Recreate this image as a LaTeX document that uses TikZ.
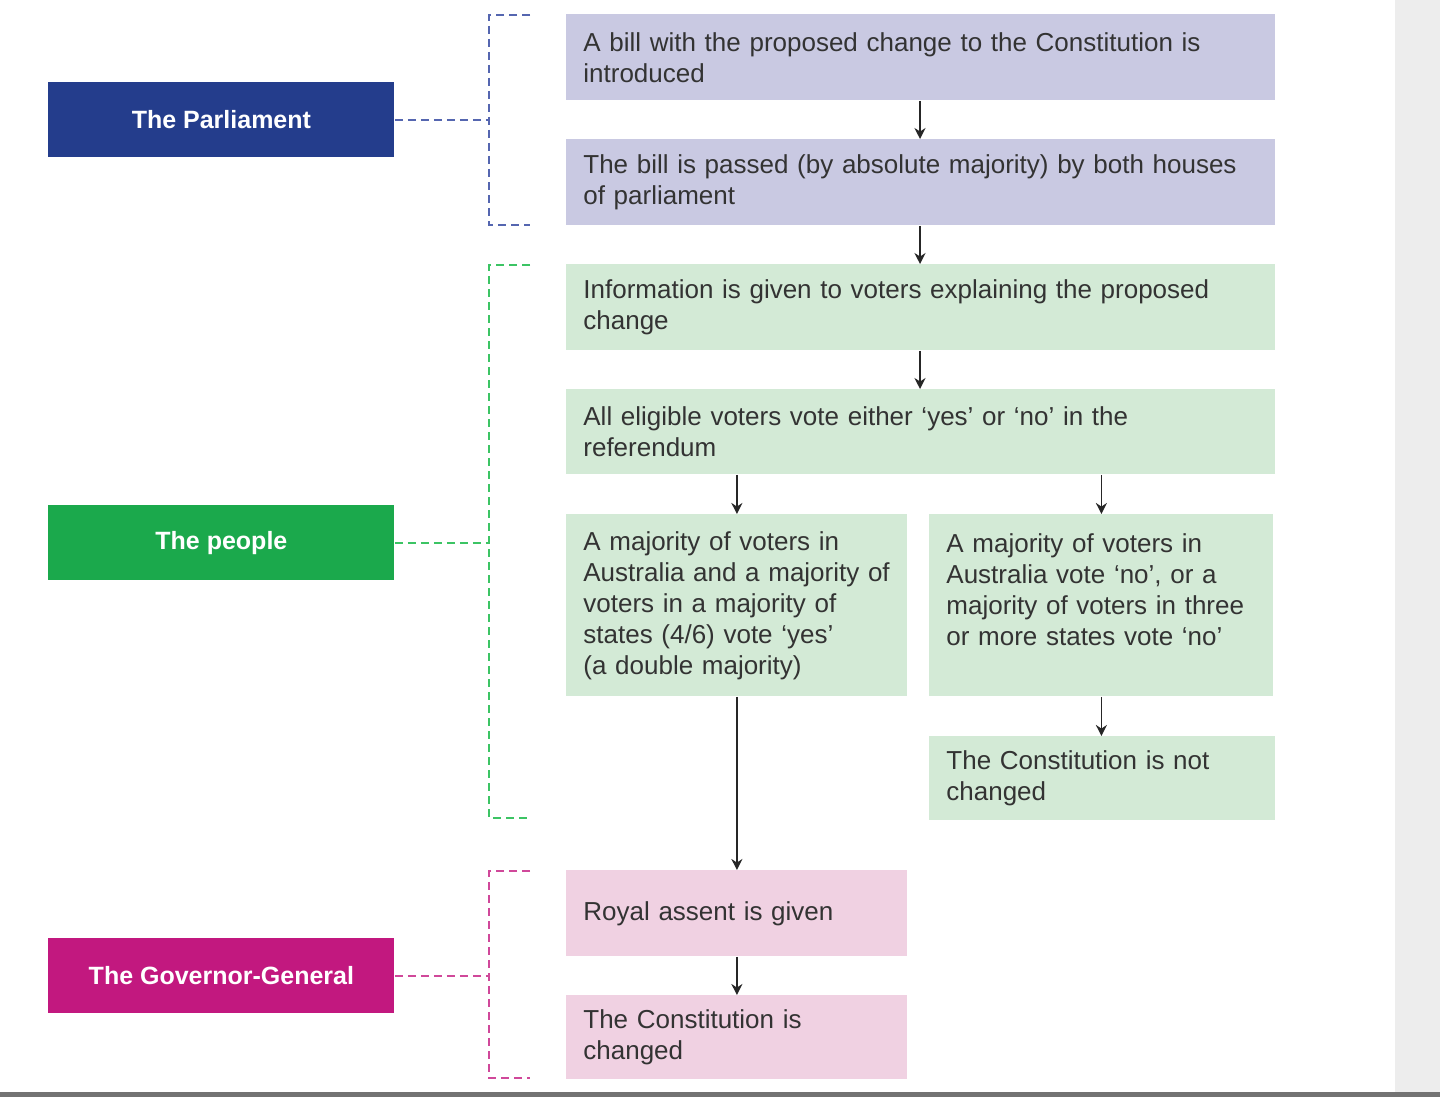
\documentclass[tikz,border=0pt]{standalone}
\usepackage{fontspec}
\setmainfont[Ligatures=TeX]{Liberation Sans}
\usetikzlibrary{arrows.meta}
\definecolor{parlc}{HTML}{243D8C}
\definecolor{peoplec}{HTML}{1BA94C}
\definecolor{govc}{HTML}{C2187F}
\definecolor{purplebox}{HTML}{C9C9E2}
\definecolor{greenbox}{HTML}{D3EAD6}
\definecolor{pinkbox}{HTML}{F0D1E2}
\definecolor{parldash}{HTML}{5566B0}
\definecolor{peopledash}{HTML}{3CC464}
\definecolor{govdash}{HTML}{D0489A}
\definecolor{txt}{HTML}{333333}
\tikzset{
  label box/.style={draw=none, minimum width=173pt, minimum height=37.5pt, anchor=north west,
    text=white, font=\bfseries\fontsize{12.5}{15.5}\selectfont, inner sep=0pt},
  stepbox/.style={draw=none, anchor=north west, inner xsep=8.5pt, inner ysep=0pt,
    text width=#1-17pt, minimum width=#1, align=left, text=txt,
    font=\fontsize{13}{15.5}\selectfont},
  bracket/.style={line width=1.4pt, dash pattern=on 4pt off 2.5pt},
  flow/.style={line width=0.9pt, -{Stealth[length=5.5pt,width=5.5pt]}, black!85},
}
\begin{document}
\begin{tikzpicture}[x=0.5pt,y=-0.5pt]
\useasboundingbox (0,0) rectangle (1440,1097);
\fill[white] (0,0) rectangle (1440,1097);
% right grey strip and bottom rule
\fill[black!7] (1395,0) rectangle (1440,1097);
\fill[black!55] (0,1092) rectangle (1440,1097);

% left labels
\node[label box, fill=parlc] (parl) at (48,82) {The Parliament};
\node[label box, fill=peoplec] (people) at (48,505) {The people};
\node[label box, fill=govc] (gov) at (48,938) {The Governor-General};

% brackets
\coordinate (b1t) at (489,15); \coordinate (b1b) at (489,225);
\coordinate (b2t) at (489,265); \coordinate (b2b) at (489,818);
\coordinate (b3t) at (489,871); \coordinate (b3b) at (489,1078);
\draw[bracket, parldash] ([xshift=20.5pt]b1t) -- (b1t) -- (b1b) -- ([xshift=20.5pt]b1b);
\draw[bracket, peopledash] ([xshift=20.5pt]b2t) -- (b2t) -- (b2b) -- ([xshift=20.5pt]b2b);
\draw[bracket, govdash] ([xshift=20.5pt]b3t) -- (b3t) -- (b3b) -- ([xshift=20.5pt]b3b);
\draw[bracket, line width=1.3pt, parldash] (parl.east) -- (parl.east -| b1t);
\draw[bracket, line width=1.3pt, peopledash] (people.east) -- (people.east -| b2t);
\draw[bracket, line width=1.3pt, govdash] (gov.east) -- (gov.east -| b3t);

% step boxes
\node[stepbox=354.5pt, fill=purplebox, minimum height=43pt] (s1) at (566,14)
  {A bill with the proposed change to the Constitution is\\introduced};
\node[stepbox=354.5pt, fill=purplebox, minimum height=43pt] (s2) at (566,139)
  {The bill is passed (by absolute majority) by both houses\\of parliament};
\node[stepbox=354.5pt, fill=greenbox, minimum height=43pt] (s3) at (566,264)
  {Information is given to voters explaining the proposed\\change};
\node[stepbox=354.5pt, fill=greenbox, minimum height=42.5pt] (s4) at (566,389)
  {All eligible voters vote either ‘yes’ or ‘no’ in the\\referendum};
\node[stepbox=170.5pt, fill=greenbox, minimum height=91pt] (yes) at (566,514)
  {A majority of voters in\\Australia and a majority of\\voters in a majority of\\states (4/6) vote ‘yes’\\(a double majority)};
\node[stepbox=172pt, fill=greenbox, minimum height=91pt] (no) at (929,514)
  {A majority of voters in\\Australia vote ‘no’, or a\\majority of voters in three\\or more states vote ‘no’\\\mbox{}};
\node[stepbox=173pt, fill=greenbox, minimum height=42pt] (notch) at (929,736)
  {The Constitution is not\\changed};
\node[stepbox=170.5pt, fill=pinkbox, minimum height=43pt] (assent) at (566,870)
  {Royal assent is given};
\node[stepbox=170.5pt, fill=pinkbox, minimum height=42pt] (ch) at (566,995)
  {The Constitution is\\changed};

% arrows
\draw[flow] (s1.south -| 920,0) -- (s2.north -| 920,0);
\draw[flow] (s2.south -| 920,0) -- (s3.north -| 920,0);
\draw[flow] (s3.south -| 920,0) -- (s4.north -| 920,0);
\draw[flow] (s4.south -| yes.north) -- (yes.north);
\draw[flow] (s4.south -| no.north) -- (no.north);
\draw[flow] (no.south) -- (notch.north -| no.south);
\draw[flow] (yes.south) -- (assent.north);
\draw[flow] (assent.south) -- (ch.north);
\end{tikzpicture}
\end{document}
